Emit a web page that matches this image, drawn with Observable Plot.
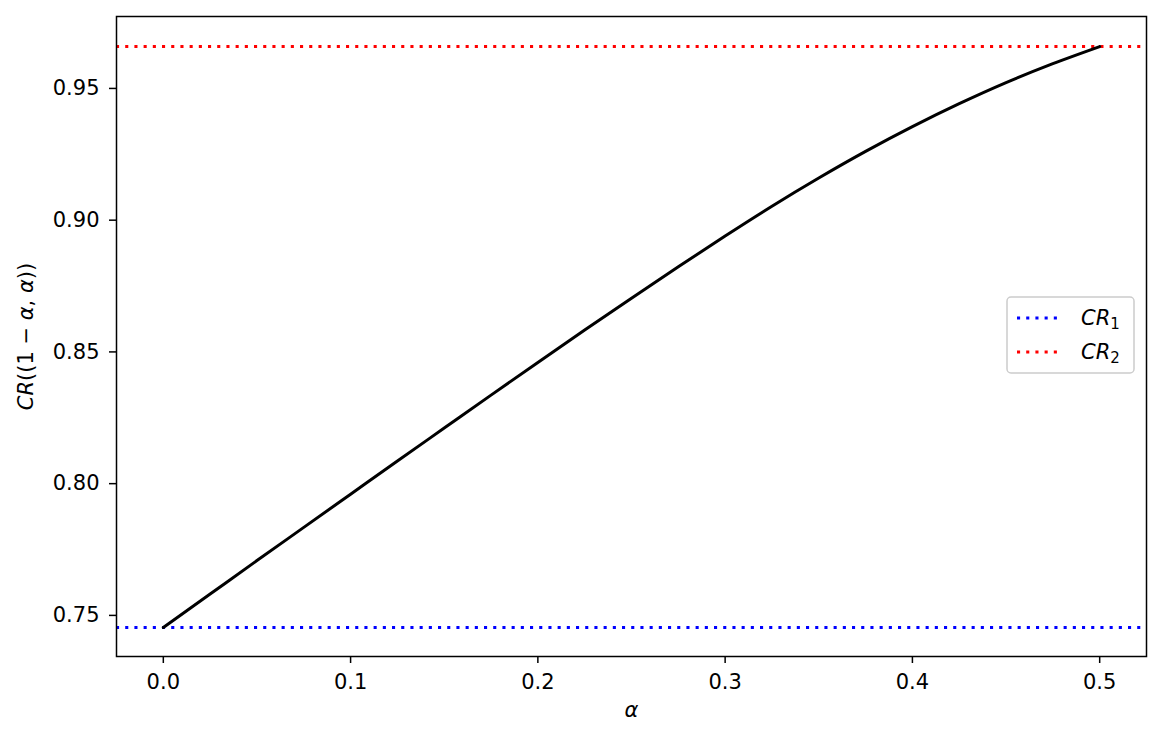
<!DOCTYPE html>
<html>
<head>
<meta charset="utf-8">
<script src="https://cdn.jsdelivr.net/npm/d3@7"></script>
<script src="https://cdn.jsdelivr.net/npm/@observablehq/plot@0.6"></script>
<style>
  html, body { margin: 0; padding: 0; background: white; }
  #chart { width: 1163px; height: 743px; }
  #chart svg g[aria-label$="tick label"] { font-size: 21px; }
</style>
</head>
<body>
<div id="chart"></div>
<script>
// Data
const alpha = [0, 0.025, 0.05, 0.075, 0.1, 0.125, 0.15, 0.175, 0.2, 0.225, 0.25, 0.275, 0.3, 0.325, 0.35, 0.375, 0.4, 0.425, 0.45, 0.475, 0.5];
const crValues = [0.7454, 0.7581, 0.7708, 0.7834, 0.7960, 0.8086, 0.8211, 0.8336, 0.8460, 0.8583, 0.8704, 0.8823, 0.8940, 0.9053, 0.9160, 0.9261, 0.9355, 0.9442, 0.9522, 0.9594, 0.9659];
const CR1 = 0.7454;
const CR2 = 0.9659;
const xTicks = [0, 0.1, 0.2, 0.3, 0.4, 0.5];
const yTicks = [0.75, 0.80, 0.85, 0.90, 0.95];
const xDomain = [-0.025, 0.525];
const yDomain = [0.7344, 0.9773];

const data = alpha.map((a, i) => ({a, v: crValues[i]}));

const W = 1163, H = 743;
const mL = 116, mR = 17, mT = 16, mB = 87;
const dots = "3.1,6.1";
const FS = 21;

const chart = Plot.plot({
  width: W, height: H,
  marginLeft: mL, marginRight: mR, marginTop: mT, marginBottom: mB,
  style: {fontFamily: "DejaVu Sans", fontSize: FS + "px", color: "black", background: "white", overflow: "visible"},
  x: {domain: xDomain},
  y: {domain: yDomain},
  marks: [
    Plot.ruleY([CR1], {stroke: "#0000ff", strokeWidth: 3, strokeDasharray: dots}),
    Plot.ruleY([CR2], {stroke: "#ff0000", strokeWidth: 3, strokeDasharray: dots}),
    Plot.line(data, {x: "a", y: "v", stroke: "black", strokeWidth: 3, curve: "monotone-x"}),
    Plot.frame({stroke: "black", strokeWidth: 1.5}),
    Plot.axisX({ticks: xTicks, tickFormat: d3.format(".1f"), tickSize: 7, tickPadding: 11, label: null, fontSize: FS, strokeWidth: 1.5}),
    Plot.axisY({ticks: yTicks, tickFormat: d3.format(".2f"), tickSize: 7, tickPadding: 10, label: null, fontSize: FS, strokeWidth: 1.5}),
    Plot.text(["α"], {frameAnchor: "bottom", dy: 60, fontSize: FS, fontStyle: "italic", fill: "black", textAnchor: "middle", className: "xlab"}),
    Plot.text(["CR((1 − α, α))"], {frameAnchor: "left", rotate: -90, dx: -90, fontSize: FS, fill: "black", textAnchor: "middle", className: "ylab"})
  ]
});

document.getElementById("chart").appendChild(chart);

// Mixed italic/upright math-style y label
const yl = d3.select(chart).select("g.ylab text");
yl.text(null);
[["CR", true], ["((1 − ", false], ["α", true], [", ", false], ["α", true], ["))", false]].forEach(([t, it]) => {
  yl.append("tspan").attr("font-style", it ? "italic" : "normal").text(t);
});

// Legend (inside the frame, right side, vertically centred)
const svg = d3.select(chart);
const frameRight = W - mR, frameMidY = (mT + (H - mB)) / 2;
const lw = 127, lh = 76;
const lx = frameRight - 12 - lw, ly = frameMidY - lh / 2 - 1;
const lg = svg.append("g").attr("font-family", "DejaVu Sans").style("font-size", FS + "px").attr("text-anchor", "start");
lg.append("rect").attr("x", lx).attr("y", ly).attr("width", lw).attr("height", lh)
  .attr("rx", 4).attr("fill", "white").attr("fill-opacity", 0.8).attr("stroke", "#cccccc").attr("stroke-width", 1.5);
const entries = [{label: "1", color: "#0000ff"}, {label: "2", color: "#ff0000"}];
entries.forEach((e, i) => {
  const cy = ly + 21 + i * 34;
  lg.append("line").attr("x1", lx + 10).attr("x2", lx + 56).attr("y1", cy).attr("y2", cy)
    .attr("stroke", e.color).attr("stroke-width", 3).attr("stroke-dasharray", dots);
  const t = lg.append("text").attr("x", lx + 74).attr("y", cy + 7).attr("fill", "black").attr("text-anchor", "start");
  t.append("tspan").attr("font-style", "italic").text("CR");
  t.append("tspan").style("font-size", "15px").attr("dy", 4).text(e.label);
});
</script>
</body>
</html>
